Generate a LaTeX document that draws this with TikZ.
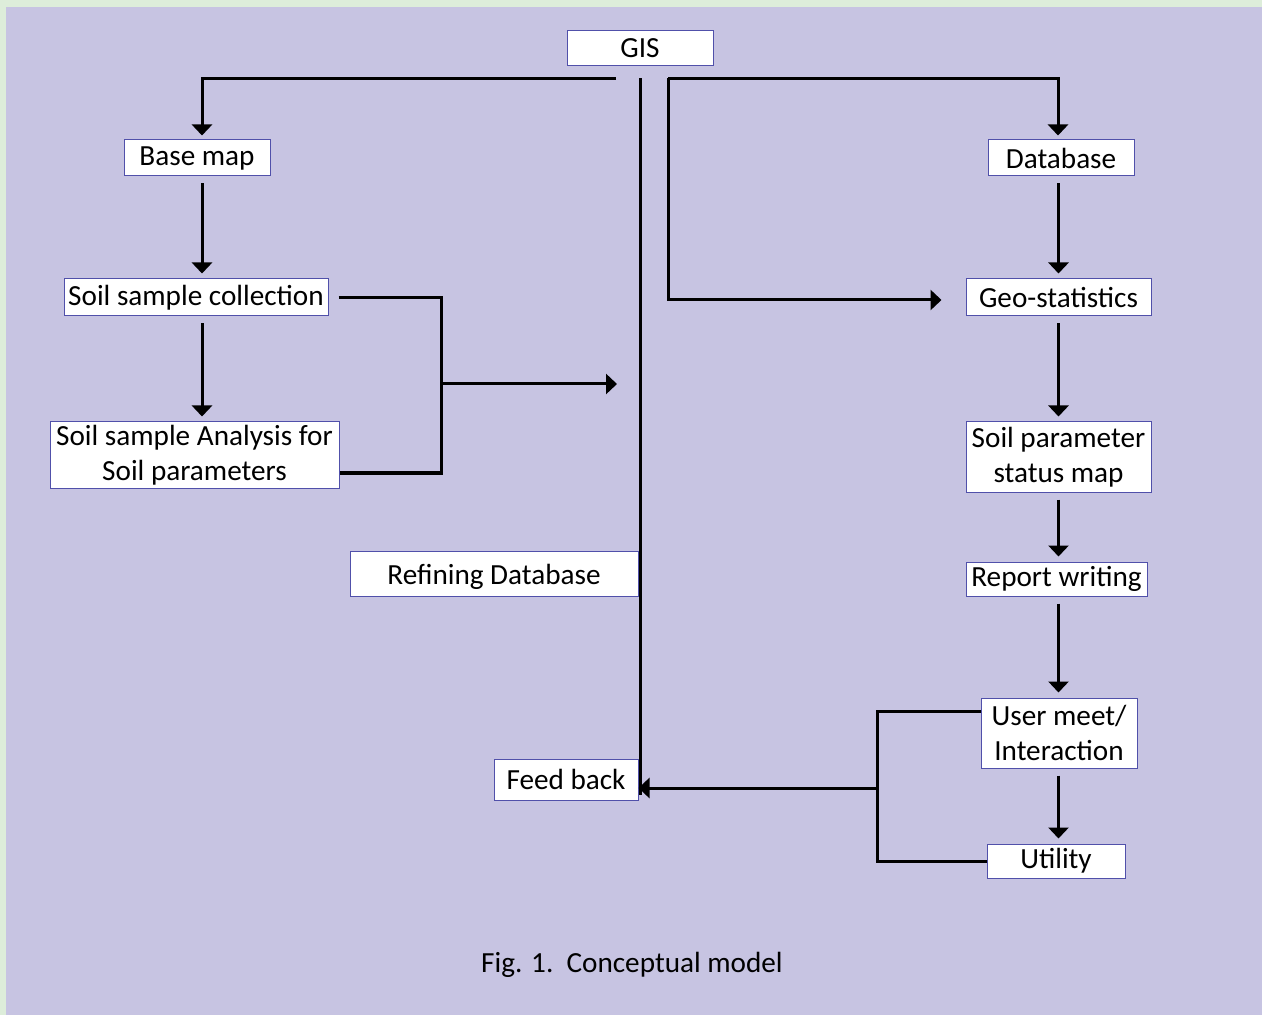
\documentclass[tikz,border=0pt]{standalone}
\usepackage{fontspec}
\setmainfont{Carlito}
\usetikzlibrary{calc}
\usetikzlibrary{arrows.meta}
\definecolor{lavender}{RGB}{199,196,226}
\definecolor{paleGreen}{RGB}{221,237,218}
\definecolor{boxEdge}{RGB}{80,80,170}

\begin{document}
\begin{tikzpicture}[
    x=0.5pt, y=-0.5pt,
    box/.style={rectangle, draw=boxEdge, line width=0.5pt, fill=white, inner sep=1pt, align=center, font=\fontsize{14.6}{17.5}\selectfont},
    flow/.style={line width=1.5pt, shorten <=3.5pt, shorten >=2.5pt},
    link/.style={line width=1.5pt},
    >={Triangle[length=5.5pt,width=10pt]}
]
    % page
    \fill[paleGreen] (0,0) rectangle (1262,1015);
    \fill[lavender] (6,7) rectangle (1262,1015);
    \useasboundingbox (0,0) rectangle (1262,1015);

    % boxes
    \node[box, minimum width=73pt, minimum height=17.5pt] (gis) at (640,48.5) {GIS};
    \node[box, minimum width=73pt, minimum height=18pt] (basemap) at (197,158) {Base map};
    \node[box, minimum width=73pt, minimum height=18pt] (database) at (1061,158) {Database};
    \node[box, minimum width=132pt, minimum height=18.5pt] (collection) at (196,297.5) {Soil sample collection};
    \node[box, minimum width=92.5pt, minimum height=18.5pt] (geostat) at (1058.5,297.5) {Geo-statistics};
    \node[box, minimum width=144.5pt, minimum height=33pt] (analysis) at (194.5,455) {Soil sample Analysis for\\Soil parameters};
    \node[box, minimum width=92.5pt, minimum height=35pt] (statusmap) at (1058.5,457) {Soil parameter\\status map};
    \node[box, minimum width=144pt, minimum height=22.5pt, text height=14pt, text depth=2.7pt] (refining) at (494,573.5) {Refining Database};
    \node[box, minimum width=90.5pt, minimum height=17pt] (report) at (1056.5,579) {Report writing};
    \node[box, minimum width=78pt, minimum height=35pt] (usermeet) at (1059,733) {User meet/\\Interaction};
    \node[box, minimum width=72pt, minimum height=20.5pt] (feedback) at (566,779.5) {Feed back};
    \node[box, minimum width=69pt, minimum height=17pt] (utility) at (1056,861) {Utility};
    \node[font=\fontsize{14.6}{17.5}\selectfont, inner sep=0pt] (caption) at (632,965) {Fig. 1.\ \ Conceptual model};

    % branch points
    \coordinate (gisL) at ($(gis.south)+(-24,12)$);
    \coordinate (gisC) at ($(gis.south)+(0,12)$);
    \coordinate (gisR) at ($(gis.south)+(28,12)$);
    \coordinate (bracketL) at (441,384);
    \coordinate (bracketR) at (877,788);
    \coordinate (geoIn) at ([xshift=-12pt,yshift=-1.25pt]geostat.west);

    % from GIS
    \draw[link, ->, shorten >=2pt] (gisL) -| ([xshift=2.5pt]basemap.north);
    \draw[link, ->, shorten >=2pt] (gisR) -| ([xshift=-1.5pt]database.north);
    \draw[link, ->] (gisR) |- (geoIn);
    \draw[link] (gisC) -- ([yshift=3pt]gisC |- feedback.south);

    % left column
    \draw[flow, ->] ([xshift=2.5pt]basemap.south) -- ([xshift=2.5pt]basemap.south |- collection.north);
    \draw[flow, ->] ([xshift=3pt]collection.south) -- ([xshift=3pt]collection.south |- analysis.north);
    \draw[link] ([xshift=5pt]collection.east) -| (bracketL) |- ([yshift=-9pt]analysis.east);
    \draw[link, ->, shorten >=11.5pt] (bracketL) -- (bracketL -| gisC);

    % right column
    \draw[flow, ->] (database.south -| geostat.north) -- (geostat.north);
    \draw[flow, ->] (geostat.south) -- (statusmap.north);
    \draw[flow, ->] (statusmap.south) -- (statusmap.south |- report.north);
    \draw[flow, ->] (report.south -| statusmap.south) -- (statusmap.south |- usermeet.north);
    \draw[flow, ->] (usermeet.south -| statusmap.south) -- (statusmap.south |- utility.north);

    % feedback loop
    \draw[link] ([yshift=11pt]usermeet.west) -| (bracketR) |- (utility.west);
    \draw[link, ->] (bracketR) -- (bracketR -| feedback.east);
\end{tikzpicture}
\end{document}
